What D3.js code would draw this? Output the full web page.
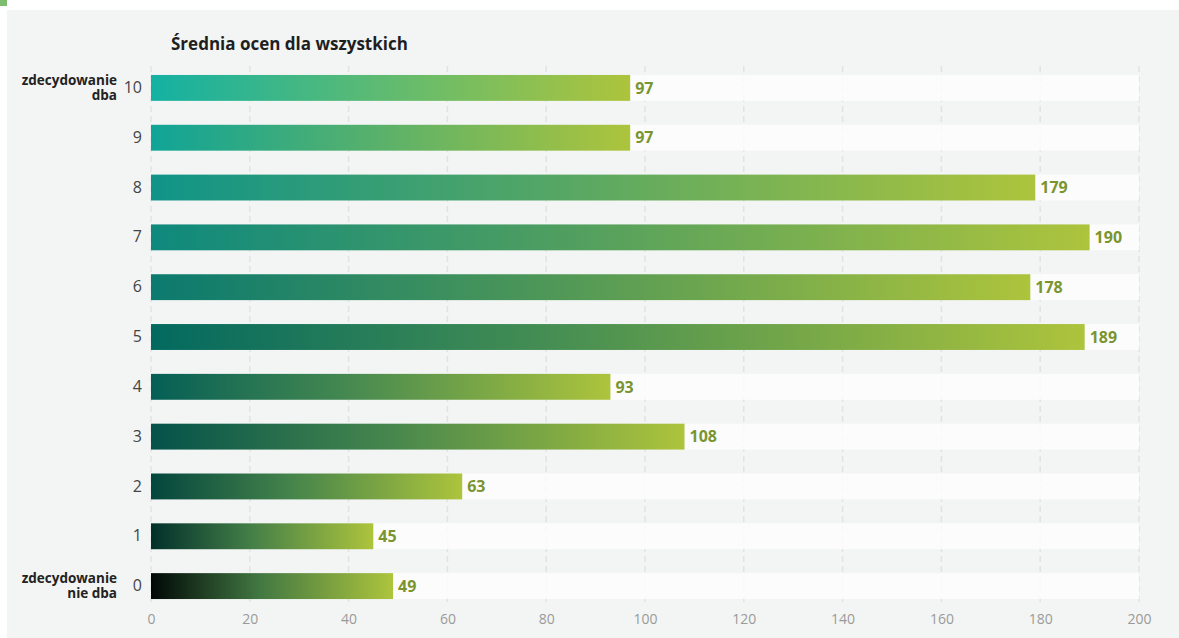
<!DOCTYPE html>
<html>
<head>
<meta charset="utf-8">
<script src="https://cdn.jsdelivr.net/npm/d3@7"></script>
<style>
  html, body { margin: 0; padding: 0; background: #ffffff; }
  svg { display: block; font-family: "Open Sans", "Noto Sans", sans-serif; }
</style>
</head>
<body>
<svg id="chart" width="1179" height="638"></svg>
<script>
// Ratings 0..10 and how many people gave each one
const categories = [10, 9, 8, 7, 6, 5, 4, 3, 2, 1, 0];
const counts     = [97, 97, 179, 190, 178, 189, 93, 108, 63, 45, 49];
// Left colour of each bar's gradient (all fade into the same lime green)
const startColors = ["#14b1a3", "#10a497", "#109488", "#0e897d", "#0b7a6f",
                     "#03695f", "#055f56", "#04524a", "#03463d", "#02302a", "#000806"];
const endColor = "#adc43c";
const midGreen = "#3a8a5a";
const xTicks = [0, 20, 40, 60, 80, 100, 120, 140, 160, 180, 200];
const endLabels = { 10: ["zdecydowanie", "dba"], 0: ["zdecydowanie", "nie dba"] };
const title = "Średnia ocen dla wszystkich";

const svg = d3.select("#chart");
const W = 1179, H = 638;

// panel
svg.append("rect").attr("x", 0).attr("y", 0).attr("width", W).attr("height", H).attr("fill", "#ffffff");
svg.append("rect").attr("x", 7).attr("y", 10).attr("width", W - 7).attr("height", H - 10).attr("fill", "#f3f5f4");
svg.append("rect").attr("x", 0).attr("y", 0).attr("width", 7).attr("height", 6).attr("fill", "#7dbd6f");

const x = d3.scaleLinear().domain([0, 200]).range([151, 1139]);
const y = d3.scaleBand().domain(categories).range([63, 611]).paddingInner(0.48).paddingOuter(0.24);

// title
svg.append("text").attr("x", 171).attr("y", 50)
  .attr("font-size", 17).attr("font-weight", 700).attr("fill", "#1f1f1f")
  .text(title);

// gradients: dark start -> greenish middle -> lime end
const defs = svg.append("defs");
categories.forEach((c, i) => {
  const g = defs.append("linearGradient").attr("id", "grad" + c)
    .attr("x1", "0%").attr("x2", "100%").attr("y1", "0%").attr("y2", "0%");
  const linMid = d3.interpolateRgb(startColors[i], endColor)(0.45);
  const mid = d3.interpolateRgb(linMid, midGreen)(0.6 * i / 10);
  g.append("stop").attr("offset", "0%").attr("stop-color", startColors[i]);
  g.append("stop").attr("offset", "45%").attr("stop-color", mid);
  g.append("stop").attr("offset", "100%").attr("stop-color", endColor);
});

// dashed vertical grid
svg.append("g").selectAll("line").data(xTicks).join("line")
  .attr("x1", d => x(d)).attr("x2", d => x(d))
  .attr("y1", 66).attr("y2", 604)
  .attr("stroke", "#e1e3e2").attr("stroke-width", 1.5)
  .attr("stroke-dasharray", "6,4");

// background tracks
svg.append("g").selectAll("rect").data(categories).join("rect")
  .attr("x", x(0)).attr("width", x(200) - x(0))
  .attr("y", d => y(d)).attr("height", y.bandwidth())
  .attr("fill", "#fdfdfd").attr("fill-opacity", 0.85);

// bars
svg.append("g").selectAll("rect").data(categories).join("rect")
  .attr("x", x(0))
  .attr("y", d => y(d))
  .attr("width", (d, i) => x(counts[i]) - x(0))
  .attr("height", y.bandwidth())
  .attr("fill", d => `url(#grad${d})`);

// value labels
svg.append("g").selectAll("text").data(categories).join("text")
  .attr("x", (d, i) => x(counts[i]) + 5)
  .attr("y", d => y(d) + y.bandwidth() / 2)
  .attr("dy", "0.36em")
  .attr("font-size", 16).attr("font-weight", 700).attr("fill", "#7a952f")
  .text((d, i) => counts[i]);

// y axis labels
const yAxis = d3.axisLeft(y).tickSize(0).tickPadding(9);
const ya = svg.append("g").attr("transform", `translate(${x(0)},0)`).call(yAxis);
ya.select(".domain").remove();
ya.selectAll("text").attr("font-size", 16).attr("fill", "#444444")
  .attr("font-family", '"Open Sans", "Noto Sans", sans-serif');

// descriptive labels for the scale ends, two lines each
Object.entries(endLabels).forEach(([k, lines]) => {
  const cy = y(+k) + y.bandwidth() / 2;
  lines.forEach((ln, j) => {
    svg.append("text").attr("text-anchor", "end")
      .attr("x", 117).attr("y", cy - 3 + j * 15)
      .attr("font-size", 13.5).attr("font-weight", 700).attr("fill", "#222222")
      .text(ln);
  });
});

// x axis
const xAxis = d3.axisBottom(x).tickValues(xTicks).tickSize(0).tickPadding(0);
const xa = svg.append("g").attr("transform", "translate(0,614)").call(xAxis);
xa.select(".domain").remove();
xa.selectAll("text").attr("font-size", 14).attr("fill", "#9a9a9a")
  .attr("font-family", '"Open Sans", "Noto Sans", sans-serif');
</script>
</body>
</html>
